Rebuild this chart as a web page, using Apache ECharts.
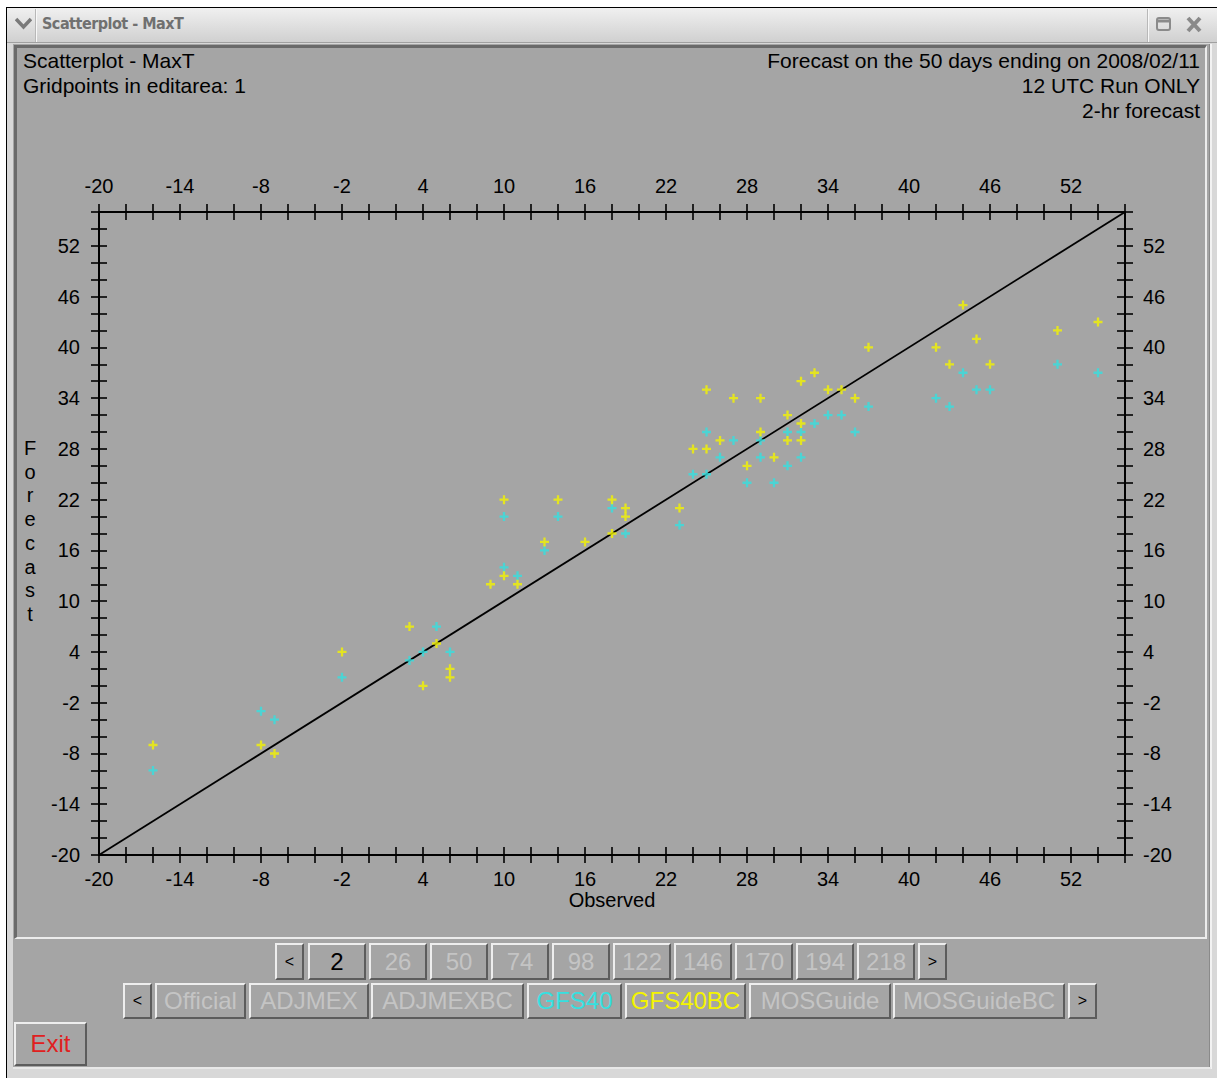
<!DOCTYPE html>
<html>
<head>
<meta charset="utf-8">
<title>Scatterplot - MaxT</title>
<script src="https://cdn.jsdelivr.net/npm/echarts@6/dist/echarts.min.js"></script>
<style>
  html, body { margin: 0; padding: 0; width: 1217px; height: 1078px; overflow: hidden; background: #ffffff;
    font-family: "Liberation Sans", Arial, sans-serif; }
  .abs { position: absolute; box-sizing: border-box; }
  #frame { left: 6px; top: 7px; width: 1211px; height: 1071px; background: #d8d8d8;
    border-left: 1px solid #000; border-top: 1px solid #000; }
  #titlebar { left: 7px; top: 8px; width: 1210px; height: 35px;
    background: linear-gradient(#f0f0f0, #d0d0d0); border-bottom: 1px solid #a0a0a0; }
  #titletext { left: 42px; top: 14px; font-family: "DejaVu Sans Condensed", "DejaVu Sans", sans-serif;
    font-weight: bold; font-size: 16px; color: #707070; white-space: nowrap; letter-spacing: -0.5px; }
  .sep { top: 9px; width: 2px; height: 33px; border-left: 1px solid #b8b8b8; border-right: 1px solid #f8f8f8; }
  #client { left: 13px; top: 44px; width: 1196px; height: 1024px; background: #a5a5a5; }
  #panel { left: 14px; top: 45px; width: 1193px; height: 894px; background: #a5a5a5;
    border-style: solid; border-width: 3px 2px 2px 3px; border-color: #6a6a6a #ececec #ececec #6a6a6a; }
  #bottomline { left: 13px; top: 1067px; width: 1198px; height: 2px; background: #e8e8e8; }
  #rightedge { left: 1209px; top: 44px; width: 3px; height: 1025px; background: #f2f2f2; border-left: 1px solid #8a8a8a; }
  .btn { height: 37px; background: #a5a5a5; border-style: solid; border-width: 2px;
    border-color: #eeeeee #5c5c5c #5c5c5c #eeeeee; color: #c4c4c4; font-size: 24px;
    text-align: center; line-height: 32px; white-space: nowrap; overflow: hidden; }
  .arrow { color: #000; font-size: 16px; }
  #chart { left: 0; top: 0; width: 1217px; height: 1078px; }
</style>
</head>
<body>
<div id="frame" class="abs"></div>
<div id="titlebar" class="abs"></div>
<svg class="abs" style="left:15px;top:17px" width="17" height="13" viewBox="0 0 17 13">
  <path d="M1,2 L8.5,10 L16,2" fill="none" stroke="#7a7a7a" stroke-width="3.5"/>
</svg>
<div class="abs sep" style="left:35px"></div>
<div id="titletext" class="abs">Scatterplot - MaxT</div>
<div class="abs sep" style="left:1147px"></div>
<svg class="abs" style="left:1155px;top:15px" width="60" height="20" viewBox="0 0 60 20">
  <rect x="2" y="3" width="13" height="12" rx="2" fill="none" stroke="#8a8a8a" stroke-width="2"/>
  <line x1="2" y1="6" x2="15" y2="6" stroke="#8a8a8a" stroke-width="3"/>
  <path d="M33,3 L45,16 M45,3 L33,16" stroke="#8a8a8a" stroke-width="4"/>
</svg>
<div id="client" class="abs"></div>
<div id="panel" class="abs"></div>
<div id="rightedge" class="abs"></div>
<div id="bottomline" class="abs"></div>

<div id="controls"></div>
<div id="chart" class="abs"></div>

<script>
// Axis range and tick layout (both axes share the same scale)
const AXIS_MIN = -20;
const AXIS_MAX = 56;
const TICK_STEP = 2;
const tickLabels = [-20, -14, -8, -2, 4, 10, 16, 22, 28, 34, 40, 46, 52];

// Perfect-forecast reference line
const diagonal = [[-20, -20], [56, 56]];

// [observed, forecast] pairs for each guidance source
const gfs40 = [
  [-16, -10], [-8, -3], [-7, -4], [-2, 1], [3, 3], [4, 4], [5, 7], [6, 4],
  [10, 14], [11, 13], [10, 20], [13, 16], [14, 20], [18, 21], [19, 18], [23, 19],
  [24, 25], [25, 25], [25, 30], [26, 27], [27, 29], [28, 24], [29, 29], [29, 27],
  [30, 24], [31, 30], [31, 26], [32, 30], [32, 27], [33, 31], [34, 32], [35, 32],
  [36, 30], [37, 33], [42, 34], [43, 33], [44, 37], [45, 35], [46, 35], [51, 38],
  [54, 37]
];
const gfs40bc = [
  [-16, -7], [-8, -7], [-7, -8], [-2, 4], [3, 7], [5, 5], [6, 2], [6, 1], [4, 0],
  [9, 12], [10, 13], [11, 12], [10, 22], [13, 17], [14, 22], [16, 17], [18, 22],
  [18, 18], [19, 21], [19, 20], [23, 21], [24, 28], [25, 28], [25, 35], [26, 29],
  [27, 34], [28, 26], [29, 34], [29, 30], [30, 27], [31, 32], [31, 29], [32, 36],
  [32, 31], [32, 29], [33, 37], [34, 35], [35, 35], [36, 34], [37, 40], [42, 40],
  [43, 38], [44, 45], [45, 41], [46, 38], [51, 42], [54, 43]
];

// Control bar captions
const hourButtons = ['2', '26', '50', '74', '98', '122', '146', '170', '194', '218'];
const modelButtons = ['Official', 'ADJMEX', 'ADJMEXBC', 'GFS40', 'GFS40BC', 'MOSGuide', 'MOSGuideBC'];

const COLOR_GFS40 = '#35e0e0';
const COLOR_GFS40BC = '#f4f400';

// ---- control buttons below the plot ----
(function buildControls() {
  const host = document.getElementById('controls');
  function addBtn(text, left, top, width, height, cls, color, fontSize) {
    const b = document.createElement('div');
    b.className = 'abs btn' + (cls ? ' ' + cls : '');
    b.style.left = left + 'px';
    b.style.top = top + 'px';
    b.style.width = width + 'px';
    b.style.height = height + 'px';
    b.style.lineHeight = (height - 4) + 'px';
    if (color) b.style.color = color;
    if (fontSize) b.style.fontSize = fontSize + 'px';
    b.textContent = text;
    host.appendChild(b);
  }
  // forecast-hour row
  let x = 275;
  addBtn('<', x, 943, 29, 37, 'arrow');
  x += 33;
  hourButtons.forEach((h, i) => {
    addBtn(h, x, 943, 58, 37, '', i === 0 ? '#000' : null);
    x += 61;
  });
  addBtn('>', 918, 943, 29, 37, 'arrow');

  // model row
  const widths = [91, 120, 153, 95, 121, 142, 172];
  const lefts = [155, 249, 371, 527, 625, 749, 893];
  const colors = [null, null, null, COLOR_GFS40, COLOR_GFS40BC, null, null];
  addBtn('<', 123, 983, 29, 36, 'arrow');
  modelButtons.forEach((m, i) => addBtn(m, lefts[i], 983, widths[i], 36, '', colors[i]));
  addBtn('>', 1068, 983, 29, 36, 'arrow');

  // exit
  addBtn('Exit', 14, 1022, 73, 44, '', '#e02020');
})();

// ---- scatter plot ----
const FONT = '"Liberation Sans", Arial, sans-serif';
const chart = echarts.init(document.getElementById('chart'), null, { renderer: 'svg', width: 1217, height: 1078 });

function tickFormatter(v) {
  return tickLabels.indexOf(Math.round(v)) >= 0 ? String(Math.round(v)) : '';
}

function makeAxis(position, inside, withLabels, margin) {
  return {
    type: 'value',
    position: position,
    min: AXIS_MIN,
    max: AXIS_MAX,
    interval: TICK_STEP,
    axisLine: { show: !inside, onZero: false, lineStyle: { color: '#000', width: 2 } },
    axisTick: { show: true, inside: inside, length: 8, lineStyle: { color: '#000', width: 1.6 } },
    axisLabel: {
      show: withLabels, margin: margin, color: '#000', fontSize: 20, fontFamily: FONT,
      formatter: tickFormatter, showMinLabel: true, showMaxLabel: true
    },
    splitLine: { show: false },
    minorTick: { show: false }
  };
}

const xBottom = makeAxis('bottom', false, true, 14);
xBottom.name = 'Observed';
xBottom.nameLocation = 'middle';
xBottom.nameGap = 35;
xBottom.nameMoveOverlap = false;
xBottom.nameTextStyle = { color: '#000', fontSize: 20, fontFamily: FONT };

const plusSymbol = 'path://M2.6,0h1.8v2.6h2.6v1.8h-2.6v2.6h-1.8v-2.6h-2.6v-1.8h2.6z';

const headerStyle = { color: '#000', fontSize: 21, fontWeight: 'normal', fontFamily: FONT };

const option = {
  backgroundColor: 'transparent',
  animation: false,
  title: [
    { text: 'Scatterplot - MaxT', left: 23, top: 50, padding: 0, textStyle: headerStyle },
    { text: 'Gridpoints in editarea: 1', left: 23, top: 75, padding: 0, textStyle: headerStyle },
    { text: 'Forecast on the 50 days ending on 2008/02/11', right: 17, top: 50, padding: 0, textStyle: headerStyle },
    { text: '12 UTC Run ONLY', right: 17, top: 75, padding: 0, textStyle: headerStyle },
    { text: '2-hr forecast', right: 17, top: 100, padding: 0, textStyle: headerStyle }
  ],
  grid: { left: 99, top: 212, width: 1026, height: 643, containLabel: false },
  xAxis: [
    xBottom,
    makeAxis('bottom', true, false, 0),
    makeAxis('top', false, true, 16),
    makeAxis('top', true, false, 0)
  ],
  yAxis: [
    makeAxis('left', false, true, 19),
    makeAxis('left', true, false, 0),
    makeAxis('right', false, true, 18),
    makeAxis('right', true, false, 0)
  ],
  graphic: [
    {
      type: 'text', x: 30, y: 531,
      style: {
        text: 'Forecast'.split('').join('\n'),
        fill: '#000', font: '20px ' + FONT,
        align: 'center', verticalAlign: 'middle', lineHeight: 23.7
      }
    }
  ],
  series: [
    {
      name: 'Perfect', type: 'line', data: diagonal, xAxisIndex: 0, yAxisIndex: 0,
      showSymbol: false, silent: true, z: 1,
      lineStyle: { color: '#000', width: 1.8 }
    },
    {
      name: 'GFS40', type: 'scatter', data: gfs40, xAxisIndex: 0, yAxisIndex: 0,
      symbol: plusSymbol, symbolSize: 9, z: 3,
      itemStyle: { color: COLOR_GFS40 }
    },
    {
      name: 'GFS40BC', type: 'scatter', data: gfs40bc, xAxisIndex: 0, yAxisIndex: 0,
      symbol: plusSymbol, symbolSize: 9, z: 4,
      itemStyle: { color: COLOR_GFS40BC }
    }
  ]
};
chart.setOption(option);
</script>
</body>
</html>
